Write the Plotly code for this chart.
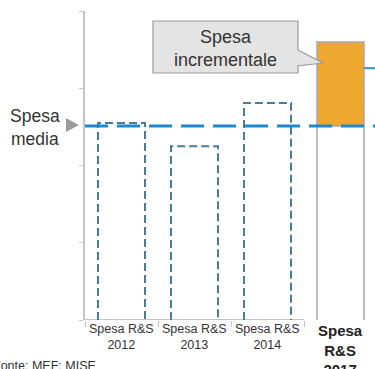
import plotly.graph_objects as go

# Spesa R&S per anno (unità arbitrarie)
anni = ["2012", "2013", "2014"]
spesa_storica = [2.55, 2.25, 2.81]
spesa_media = 2.51
spesa_2017 = 3.60
livello_destra = 3.26
categorie = ["Spesa R&S<br>2012", "Spesa R&S<br>2013", "Spesa R&S<br>2014", "<b>Spesa<br>R&S<br>2017</b>"]
nota = "Fonte: MEF; MISE"

W, H = 375, 369
ML, MT, MB = 85, 11, 49
PLOT_W = W - ML
PLOT_H = H - MT - MB
CAT_PX = 73.0
Y_MAX = 4
X0 = -0.5
X1 = X0 + PLOT_W / CAT_PX
HALF = 0.322

FONT = "Arial, Liberation Sans, sans-serif"
DASH_COL = "#4a7c98"
AVG_COL = "#1e88cf"
ORANGE = "#eea72f"
GREY = "#a9a9a9"
TXT = "#333333"


def px_to_x(px):
    return (px - ML) / CAT_PX + X0


def px_to_y(py):
    return (MT + PLOT_H - py) / PLOT_H * Y_MAX


def px_to_paper_x(px):
    return (px - ML) / PLOT_W


def px_to_paper_y(py):
    return (MT + PLOT_H - py) / PLOT_H


fig = go.Figure()

# baseline under the historical years
fig.add_trace(go.Scatter(x=[X0, 2.5], y=[0, 0], mode="lines",
                         line=dict(color="#c4c4c4", width=2), hoverinfo="skip"))

# dashed outlines for 2012-2014
for i, v in enumerate(spesa_storica):
    fig.add_trace(go.Scatter(
        x=[i - HALF, i - HALF, i + HALF, i + HALF],
        y=[0, v, v, 0], mode="lines",
        line=dict(color=DASH_COL, width=2, dash="8px,4px"),
        hoverinfo="skip"))

# 2017: base part (outline only) and incremental part (orange)
fig.add_trace(go.Scatter(
    x=[3 - HALF, 3 - HALF, None, 3 + HALF, 3 + HALF],
    y=[0, spesa_media, None, 0, spesa_media], mode="lines",
    line=dict(color=GREY, width=1.5), hoverinfo="skip"))
fig.add_trace(go.Bar(x=[3], y=[spesa_2017 - spesa_media], base=[spesa_media],
                     width=2 * HALF, marker=dict(color=ORANGE, line=dict(color=GREY, width=1.5)),
                     hoverinfo="skip"))

# average line
fig.add_trace(go.Scatter(x=[X0, X1], y=[spesa_media, spesa_media], mode="lines",
                         line=dict(color=AVG_COL, width=3, dash="23px,9px"), hoverinfo="skip"))

# level line on the right
fig.add_trace(go.Scatter(x=[3 + HALF, X1], y=[livello_destra, livello_destra], mode="lines",
                         line=dict(color="#3a8ccf", width=2), hoverinfo="skip"))

# callout box with pointer
pts = [(153, 21), (298, 21), (298, 50), (323, 63), (298, 66), (298, 73), (153, 73)]
path = "M " + " L ".join(f"{px_to_x(a):.4f},{px_to_y(b):.4f}" for a, b in pts) + " Z"
shapes = [dict(type="path", xref="x", yref="y", path=path,
               fillcolor="#e4e4e4", line=dict(color="#9a9a9a", width=1.2), layer="above")]

# triangle marker next to "Spesa media"
tri = [(66, 118), (79, 125), (66, 132)]
tpath = "M " + " L ".join(f"{px_to_paper_x(a):.4f},{px_to_paper_y(b):.4f}" for a, b in tri) + " Z"
shapes.append(dict(type="path", xref="paper", yref="paper", path=tpath,
                   fillcolor="#9a9a9a", line=dict(width=0)))

annotations = [
    dict(x=px_to_x(225.5), y=px_to_y(48), xref="x", yref="y", text="Spesa<br>incrementale",
         showarrow=False, xanchor="center", yanchor="middle",
         font=dict(family=FONT, size=18, color=TXT)),
    dict(x=px_to_paper_x(35), y=px_to_paper_y(127.5), xref="paper", yref="paper",
         text="Spesa<br>media", showarrow=False, xanchor="center", yanchor="middle",
         font=dict(family=FONT, size=17.5, color=TXT)),
    dict(x=px_to_paper_x(-9), y=px_to_paper_y(366), xref="paper", yref="paper",
         text=nota, showarrow=False, xanchor="left", yanchor="middle",
         font=dict(family=FONT, size=12.5, color=TXT)),
]
for i, c in enumerate(categorie):
    last = i == len(categorie) - 1
    annotations.append(dict(
        x=i, y=px_to_paper_y(320), xref="x", yref="paper", text=c, showarrow=False,
        xanchor="center", yanchor="top",
        font=dict(family=FONT, size=15 if last else 12.5, color="#222" if last else TXT)))

fig.update_layout(
    width=W, height=H,
    margin=dict(l=ML, r=0, t=MT, b=MB, pad=0),
    paper_bgcolor="white", plot_bgcolor="white",
    showlegend=False,
    shapes=shapes, annotations=annotations,
    xaxis=dict(range=[X0, X1], showgrid=False, zeroline=False, showline=False,
               tickvals=[-0.5, 0.5, 1.5, 2.5], ticks="outside", ticklen=6,
               tickcolor="#c4c4c4", tickwidth=1, showticklabels=False, fixedrange=True),
    yaxis=dict(range=[0, Y_MAX], showgrid=False, zeroline=False, showline=True,
               linecolor="#c4c4c4", linewidth=2, tickvals=list(range(Y_MAX + 1)),
               ticks="outside", ticklen=4, tickcolor="#c4c4c4", tickwidth=1,
               showticklabels=False, fixedrange=True),
)

fig.write_html("out.html")
